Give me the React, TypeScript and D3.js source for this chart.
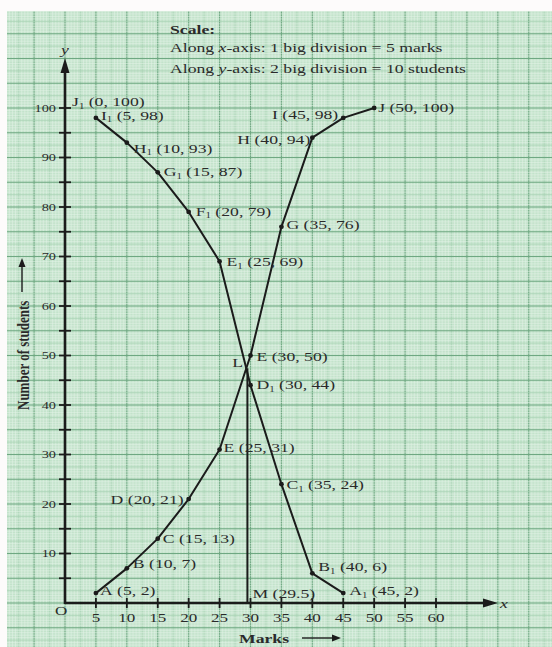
import * as React from 'react';
import * as d3 from 'd3';

// less than ogive
const lessNames = ['A', 'B', 'C', 'D', 'E', 'E', 'G', 'H', 'I', 'J'];
const lessMarks = [5, 10, 15, 20, 25, 30, 35, 40, 45, 50];
const lessCounts = [2, 7, 13, 21, 31, 50, 76, 94, 98, 100];

// more than ogive
const moreNames = ['I', 'H', 'G', 'F', 'E', 'D', 'C', 'B', 'A'];
const moreMarks = [5, 10, 15, 20, 25, 30, 35, 40, 45];
const moreCounts = [98, 93, 87, 79, 69, 44, 24, 6, 2];

const xTicks = [5, 10, 15, 20, 25, 30, 35, 40, 45, 50, 55, 60];
const yTicks = [10, 20, 30, 40, 50, 60, 70, 80, 90, 100];
const yMinorTicks = [5, 15, 25, 35, 45, 55, 65, 75, 85, 95];
const medianMark = 29.5;
const startPoint = { name: 'J', mark: 0, count: 100 };

const scaleLines = [
  'Scale:',
  'Along x-axis: 1 big division = 5 marks',
  'Along y-axis: 2 big division = 10 students',
];

// label layout: [dx, dy, anchor]
const lessLayout: [number, number, string][] = [
  [4, -2, 'start'], [6, -4, 'start'], [5, 0, 'start'], [-5, 1, 'end'], [4, -2, 'start'],
  [6, 1, 'start'], [5, -2, 'start'], [-2, 2, 'end'], [-5, -3, 'end'], [4, 0, 'start'],
];
const moreLayout: [number, number, string][] = [
  [5, -2, 'start'], [7, 6, 'start'], [6, 0, 'start'], [7, 0, 'start'], [7, 1, 'start'],
  [6, 0, 'start'], [5, 1, 'start'], [6, -6, 'start'], [6, -2, 'start'],
];

const W = 552;
const H = 647;
const SX = 1.36; // the scan is stretched horizontally
const FONT = "'Liberation Serif', 'Times New Roman', serif";
const INK = '#1b1b1b';
const TXT = '#2a2a2a';

const x = d3.scaleLinear().domain([0, 60]).range([65, 436]);
const y = d3.scaleLinear().domain([0, 100]).range([603, 108]);

const T = ({ px, py, anchor = 'start', size = 13, weight = 'normal', rotate = 0, children }: any) => (
  <text
    transform={`translate(${px},${py}) scale(${SX},1)${rotate ? ` rotate(${rotate})` : ''}`}
    textAnchor={anchor}
    fontSize={size}
    fontWeight={weight}
    fontFamily={FONT}
    fill={TXT}
  >
    {children}
  </text>
);

const PointLabel = ({ name, sub, mark, count, px, py, anchor }: any) => (
  <T px={px} py={py + 4} anchor={anchor}>
    <tspan>{name}</tspan>
    {sub && <tspan fontSize={8} dy={2.5}>1</tspan>}
    <tspan dy={sub ? -2.5 : 0}>{` (${mark}, ${count})`}</tspan>
  </T>
);

const Grid = () => {
  const vx: JSX.Element[] = [];
  const hy: JSX.Element[] = [];
  const x0 = Math.ceil(x.invert(7) * 2);
  const x1 = Math.floor(x.invert(W) * 2);
  for (let i = x0; i <= x1; i++) {
    const px = x(i / 2);
    const major = i % 10 === 0;
    const mid = i % 5 === 0;
    vx.push(
      <line key={'v' + i} x1={px} x2={px} y1={11} y2={H}
        stroke={major ? '#6fa882' : mid ? '#a9d2b5' : '#e4f3e7'}
        strokeWidth={major ? 1.1 : mid ? 0.7 : 0.55} />
    );
  }
  const y0 = Math.ceil(y.invert(H) * 2);
  const y1 = Math.floor(y.invert(11) * 2);
  for (let i = y0; i <= y1; i++) {
    const py = y(i / 2);
    const major = i % 10 === 0;
    const mid = i % 5 === 0;
    hy.push(
      <line key={'h' + i} x1={7} x2={W} y1={py} y2={py}
        stroke={major ? '#6fa882' : mid ? '#a9d2b5' : '#e4f3e7'}
        strokeWidth={major ? 1.1 : mid ? 0.7 : 0.55} />
    );
  }
  return (
    <g>
      <rect x={7} y={11} width={W - 7} height={H - 11} fill="#c3e3cb" />
      {vx}
      {hy}
    </g>
  );
};

export default function App() {
  const line = d3.line<[number, number]>().x((d) => x(d[0])).y((d) => y(d[1]));
  const lessPts: [number, number][] = lessMarks.map((m, i) => [m, lessCounts[i]]);
  const morePts: [number, number][] = moreMarks.map((m, i) => [m, moreCounts[i]]);

  // intersection L of the two ogives near the median
  const la = lessPts[4], lb = lessPts[5], ma = morePts[4], mb = morePts[5];
  const sl = (lb[1] - la[1]) / (lb[0] - la[0]);
  const sm = (mb[1] - ma[1]) / (mb[0] - ma[0]);
  const lx = (ma[1] - la[1] + sl * la[0] - sm * ma[0]) / (sl - sm);
  const ly = la[1] + sl * (lx - la[0]);

  const ox = x(0);
  const oy = y(0);

  return (
    <div style={{ position: 'absolute', left: 0, top: 0 }}>
      <svg width={W} height={H} style={{ display: 'block', background: '#fdfbfb' }}>
        <Grid />

        {/* scale note */}
        <T px={170} py={34} weight="bold">{scaleLines[0]}</T>
        <T px={170} py={52}>
          <tspan>Along </tspan><tspan fontStyle="italic">x</tspan>
          <tspan>{scaleLines[1].slice(7)}</tspan>
        </T>
        <T px={170} py={73}>
          <tspan>Along </tspan><tspan fontStyle="italic">y</tspan>
          <tspan>{scaleLines[2].slice(7)}</tspan>
        </T>

        {/* axes */}
        <line x1={ox} x2={ox} y1={oy + 1} y2={70} stroke={INK} strokeWidth={2.6} />
        <polygon points={`${ox},58 ${ox - 4.5},73 ${ox + 4.5},73`} fill={INK} />
        <line x1={ox} x2={486} y1={oy} y2={oy} stroke={INK} strokeWidth={2.6} />
        <polygon points={`498,${oy} 483,${oy - 4.5} 483,${oy + 4.5}`} fill={INK} />
        <T px={504} py={608} anchor="middle" size={13}><tspan fontStyle="italic">x</tspan></T>
        <T px={ox} py={54} anchor="middle" size={13}><tspan fontStyle="italic">y</tspan></T>
        <T px={61} py={615} anchor="middle" size={12.5}>O</T>

        {yTicks.concat(yMinorTicks).map((t) => (
          <line key={'yt' + t} x1={ox - 6} x2={ox + 6} y1={y(t)} y2={y(t)} stroke={INK} strokeWidth={1.8} />
        ))}
        {yTicks.map((t) => (
          <T key={'yl' + t} px={56} py={y(t) + 3.8} anchor="end" size={10.5}>{t}</T>
        ))}
        {xTicks.map((t) => (
          <g key={'xt' + t}>
            <line x1={x(t)} x2={x(t)} y1={oy - 5} y2={oy + 5} stroke={INK} strokeWidth={1.8} />
            <T px={x(t)} py={622} anchor="middle" size={12.5}>{t}</T>
          </g>
        ))}

        {/* axis titles */}
        <T px={239} py={643} weight="bold">Marks</T>
        <line x1={302} x2={334} y1={638} y2={638} stroke={INK} strokeWidth={1.4} />
        <polygon points={`341,638 332,634.5 332,641.5`} fill={INK} />
        <T px={29} py={410} weight="bold" rotate={-90}>Number of students</T>
        <line x1={22} x2={22} y1={292} y2={265} stroke={INK} strokeWidth={1.4} />
        <polygon points={`22,258 18.5,267 25.5,267`} fill={INK} />

        {/* ogives */}
        <path d={line(lessPts) || ''} fill="none" stroke={INK} strokeWidth={2} strokeLinejoin="round" />
        <path d={line(morePts) || ''} fill="none" stroke={INK} strokeWidth={2} strokeLinejoin="round" />
        <line x1={x(medianMark)} x2={x(medianMark)} y1={y(ly)} y2={oy} stroke={INK} strokeWidth={2} />

        {lessPts.map((p, i) => (
          <g key={'lp' + i}>
            <circle cx={x(p[0])} cy={y(p[1])} r={2.4} fill={INK} />
            <PointLabel name={lessNames[i]} sub={false} mark={p[0]} count={p[1]}
              px={x(p[0]) + lessLayout[i][0]} py={y(p[1]) + lessLayout[i][1]} anchor={lessLayout[i][2]} />
          </g>
        ))}
        {morePts.map((p, i) => (
          <g key={'mp' + i}>
            <circle cx={x(p[0])} cy={y(p[1])} r={2.4} fill={INK} />
            <PointLabel name={moreNames[i]} sub={true} mark={p[0]} count={p[1]}
              px={x(p[0]) + moreLayout[i][0]} py={y(p[1]) + moreLayout[i][1]} anchor={moreLayout[i][2]} />
          </g>
        ))}
        <PointLabel name={startPoint.name} sub={true} mark={startPoint.mark} count={startPoint.count}
          px={x(startPoint.mark) + 7} py={y(startPoint.count) - 6} anchor="start" />

        <T px={x(lx) - 14} py={y(ly) - 1} size={13}>L</T>
        <T px={x(medianMark) + 5} py={y(0) - 5} size={13}>{`M (${medianMark})`}</T>
      </svg>
    </div>
  );
}
